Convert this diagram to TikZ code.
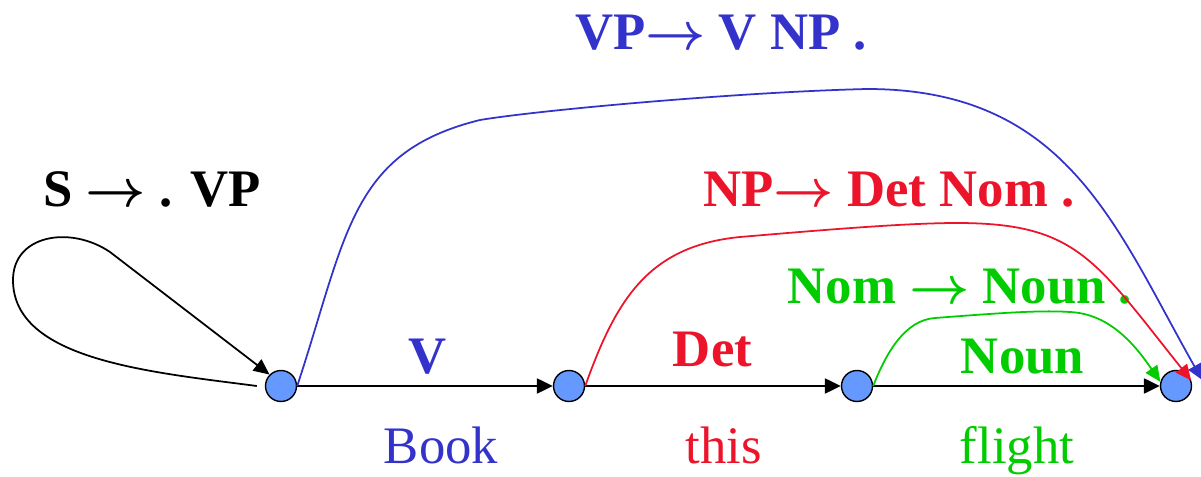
\documentclass[tikz,border=0pt]{standalone}
\usepackage{fontspec}
\setmainfont{Liberation Serif}
\usepackage{tikz}
\usetikzlibrary{arrows.meta,positioning,calc}
\definecolor{rulblue}{RGB}{51,51,204}
\definecolor{rulred}{RGB}{236,20,42}
\definecolor{rulgreen}{RGB}{0,204,0}
\definecolor{statefill}{RGB}{102,153,255}
\newcommand{\ruleto}{\scalebox{1.2}{$\rightarrow$}}
\tikzset{
  state/.style={circle, draw, fill=statefill, minimum size=0.62cm, inner sep=0pt, line width=0.8pt},
  rulelab/.style={anchor=base, font=\fontsize{30}{36}\selectfont\bfseries\boldmath, inner sep=0pt},
  wordlab/.style={anchor=base, font=\fontsize{30}{36}\selectfont, inner sep=0pt},
  scan/.style={-{Triangle[length=9pt, width=8.5pt]}, line width=1.1pt},
  arc/.style={-{Triangle[length=9pt, width=8pt]}, line width=1pt},
}

\begin{document}
\begin{tikzpicture}
  \useasboundingbox (0,0) rectangle (24.02,9.52);

  % Chart states
  \node[state] (s0) at (5.62,1.80) {};
  \node[state] (s1) at (11.38,1.80) {};
  \node[state] (s2) at (17.14,1.80) {};
  \node[state] (s3) at (23.52,1.80) {};

  % Dotted rules
  \node[rulelab] (rs) at (3.04,5.38) {S \ruleto{} . VP};
  \node[rulelab, text=rulblue] (rvp) at (14.42,8.52) {VP\ruleto{} V NP .};
  \node[rulelab, text=rulred] (rnp) at (17.78,5.38) {NP\ruleto{} Det Nom .};
  \node[rulelab, text=rulgreen] (rnom) at (19.20,3.46) {Nom \ruleto{} Noun .};

  % Categories on the edges
  \node[rulelab, text=rulblue] (cv) at (8.56,2.06) {V};
  \node[rulelab, text=rulred] (cdet) at (14.25,2.20) {Det};
  \node[rulelab, text=rulgreen] (cnoun) at (20.45,2.06) {Noun};

  % Input words
  \node[wordlab, text=rulblue] (wbook) at (8.82,0.26) {Book};
  \node[wordlab, text=rulred] (wthis) at (14.47,0.26) {this};
  \node[wordlab, text=rulgreen] (wflight) at (20.34,0.26) {flight};

  % Scanned edges
  \draw[scan] (s0) -- (s1);
  \draw[scan] (s1) -- (s2);
  \draw[scan] (s2) -- (s3);

  % Predicted loop
  \draw[arc] ([xshift=-0.16cm]s0.west) .. controls (3.0,2.08) and (0.26,2.32) .. (0.26,3.92)
    .. controls (0.26,4.82) and (1.4,5.02) .. (2.2,4.48) -- (s0.north west);

  % Completed edges
  \draw[arc, color=rulblue] (s0.east) .. controls (6.94,4.82) and (7.0,6.48) .. (9.6,7.12)
    .. controls (10.8,7.32) and (14.8,7.68) .. (17.34,7.74)
    .. controls (21.34,7.74) and (22.31,4.98) .. ([xshift=0.2cm,yshift=0.12cm]s3.east);
  \draw[arc, color=rulred] (s1.east) .. controls (12.32,3.52) and (12.96,4.6) .. (14.8,4.78)
    .. controls (16.0,4.88) and (18.0,5.06) .. (19.14,5.06)
    .. controls (21.54,5.06) and (21.9,4.32) .. (s3.20);
  \draw[arc, color=rulgreen] (s2.east) .. controls (17.72,2.46) and (18.1,3.12) .. (18.7,3.16)
    .. controls (20.0,3.26) and (20.8,3.32) .. (21.4,3.28)
    .. controls (22.2,3.24) and (22.7,2.62) .. (s3.165);

\end{tikzpicture}
\end{document}
